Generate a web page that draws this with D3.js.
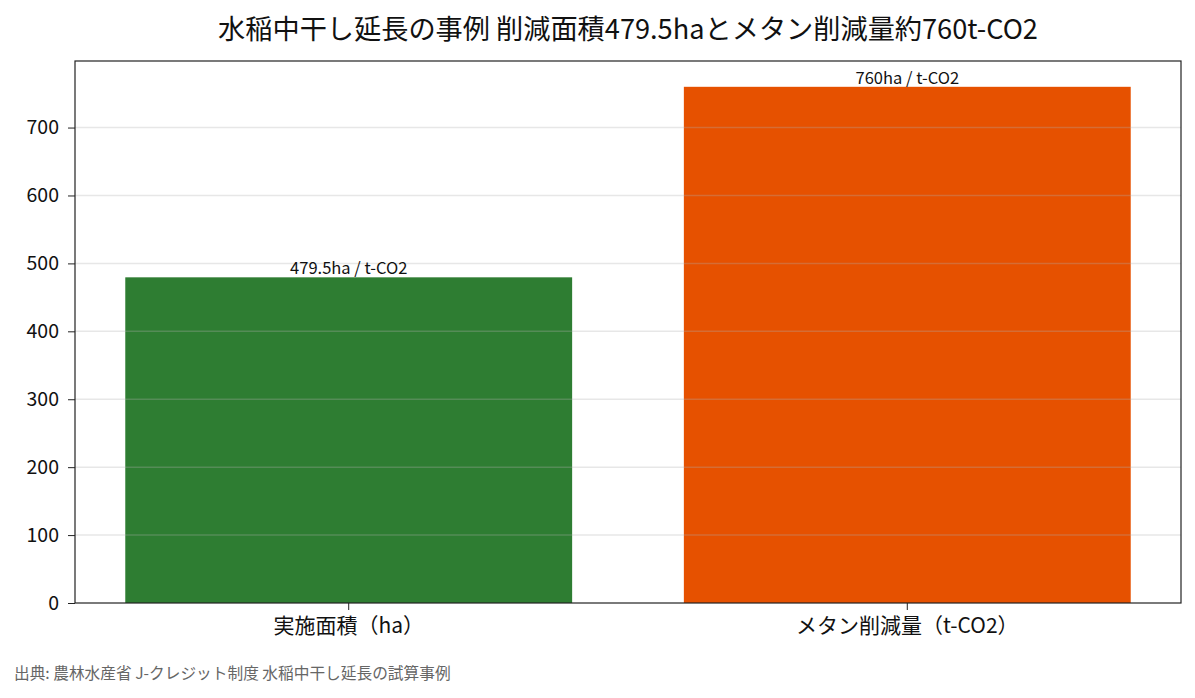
<!DOCTYPE html>
<html>
<head>
<meta charset="utf-8">
<script src="https://cdn.jsdelivr.net/npm/d3@7"></script>
<style>
  body { margin: 0; background: #fff; }
  text { font-family: "Noto Sans CJK JP", "Noto Sans", sans-serif; }
</style>
</head>
<body>
<script>
// data
var categories = ["実施面積（ha）", "メタン削減量（t-CO2）"];
var values = [479.5, 760];
var barLabels = ["479.5ha / t-CO2", "760ha / t-CO2"];
var barColors = ["#2e7d32", "#e65100"];
var yTicks = [0, 100, 200, 300, 400, 500, 600, 700];
var title = "水稲中干し延長の事例 削減面積479.5haとメタン削減量約760t-CO2";
var source = "出典: 農林水産省 J-クレジット制度 水稲中干し延長の試算事例";

// svg container
var width = 1195;
var height = 698;

var margin = { top: 61, right: 14, bottom: 95, left: 75 };
var chartWidth = width - margin.left - margin.right;
var chartHeight = height - margin.top - margin.bottom;

var svg = d3.select("body").append("svg")
    .attr("width", width)
    .attr("height", height);

var chartGroup = svg.append("g")
    .attr("transform", `translate(${margin.left}, ${margin.top})`);

// scales
var yScale = d3.scaleLinear()
    .domain([0, d3.max(values) * 1.05])
    .range([chartHeight, 0]);

var xScale = d3.scaleBand()
    .domain(categories)
    .range([0, chartWidth])
    .paddingInner(0.2)
    .paddingOuter(0.09);

// bars
chartGroup.selectAll("rect.bar")
    .data(values)
    .enter()
    .append("rect")
    .attr("class", "bar")
    .attr("x", (d, i) => xScale(categories[i]))
    .attr("y", d => yScale(d))
    .attr("width", xScale.bandwidth())
    .attr("height", d => chartHeight - yScale(d))
    .attr("fill", (d, i) => barColors[i]);

// gridlines over the bars
chartGroup.selectAll("line.grid")
    .data(yTicks.filter(d => d > 0))
    .enter()
    .append("line")
    .attr("class", "grid")
    .attr("x1", 0)
    .attr("x2", chartWidth)
    .attr("y1", d => yScale(d))
    .attr("y2", d => yScale(d))
    .attr("stroke", "#b0b0b0")
    .attr("stroke-opacity", 0.3)
    .attr("stroke-width", 1.5);

// value labels
chartGroup.selectAll("text.vlabel")
    .data(values)
    .enter()
    .append("text")
    .attr("class", "vlabel")
    .attr("x", (d, i) => xScale(categories[i]) + xScale.bandwidth() / 2)
    .attr("y", d => yScale(d) - 3)
    .attr("text-anchor", "middle")
    .attr("font-size", 16.5)
    .attr("fill", "#111")
    .text((d, i) => barLabels[i]);

// axes
var yAxis = d3.axisLeft(yScale).tickValues(yTicks).tickSize(7).tickPadding(9);
var xAxis = d3.axisBottom(xScale).tickSize(7).tickPadding(8);

var yG = chartGroup.append("g").call(yAxis);
yG.select(".domain").remove();
yG.selectAll("text").attr("font-size", 19.5).attr("fill", "#111");
yG.selectAll("line").attr("stroke", "#222");

var xG = chartGroup.append("g")
    .attr("transform", `translate(0, ${chartHeight})`)
    .call(xAxis);
xG.select(".domain").remove();
xG.selectAll("text").attr("font-size", 21).attr("fill", "#111");
xG.selectAll("line").attr("stroke", "#222");

// frame
chartGroup.append("rect")
    .attr("x", 0)
    .attr("y", 0)
    .attr("width", chartWidth)
    .attr("height", chartHeight)
    .attr("fill", "none")
    .attr("stroke", "#222")
    .attr("stroke-width", 1.2);

// title
svg.append("text")
    .attr("x", margin.left + chartWidth / 2)
    .attr("y", 39)
    .attr("text-anchor", "middle")
    .attr("font-size", 27.2)
    .attr("fill", "#111")
    .text(title);

// source
svg.append("text")
    .attr("x", 14)
    .attr("y", 679)
    .attr("font-size", 15.7)
    .attr("fill", "#666")
    .text(source);
</script>
</body>
</html>
